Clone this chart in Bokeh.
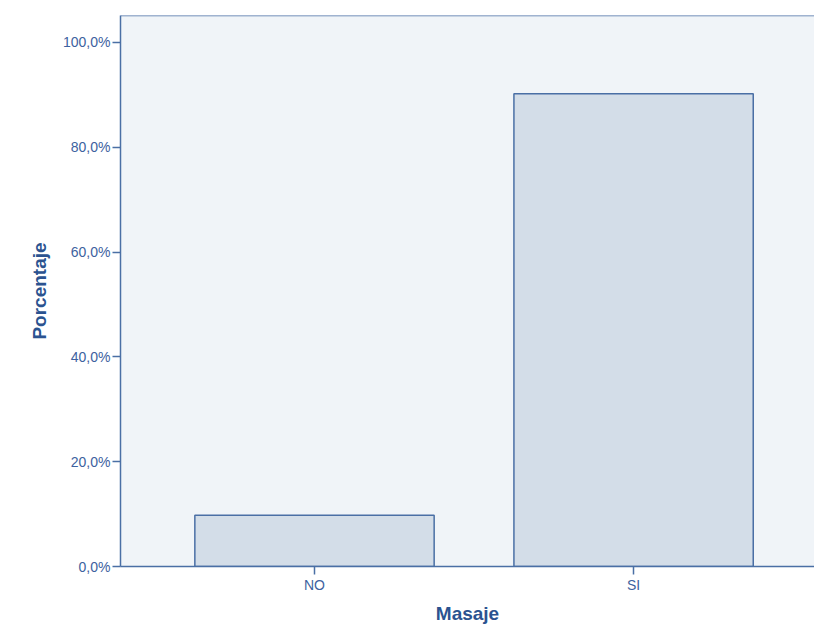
from bokeh.plotting import figure
from bokeh.models import Range1d, FixedTicker, Span
from bokeh.embed import file_html
from bokeh.resources import INLINE

categories = ["NO", "SI"]
percentages = [9.8, 90.2]
y_ticks = [0, 20, 40, 60, 80, 100]
y_tick_labels = ["0,0%", "20,0%", "40,0%", "60,0%", "80,0%", "100,0%"]
y_max = 105.15

xs = list(range(len(categories)))

p = figure(width=814, height=632, output_backend="svg", toolbar_location=None,
           x_range=Range1d(-0.608, 1.567), y_range=Range1d(0, y_max),
           min_border_left=120, min_border_right=0, min_border_top=15, min_border_bottom=66)

p.background_fill_color = "#F0F4F8"
p.border_fill_color = "white"
p.outline_line_color = None
p.grid.visible = False

axis_col = "#4A6FA5"
lbl_col = "#3D62A0"
title_col = "#2B5390"

p.vbar(x=xs, top=percentages, width=0.75, bottom=0,
       fill_color="#D3DDE8", line_color=axis_col, line_width=1.5)

p.add_layout(Span(location=y_max, dimension="width", line_color=axis_col, line_width=1.5))

p.xaxis.ticker = FixedTicker(ticks=xs)
p.xaxis.major_label_overrides = {i: c for i, c in zip(xs, categories)}
p.yaxis.ticker = FixedTicker(ticks=y_ticks)
p.yaxis.major_label_overrides = {t: l for t, l in zip(y_ticks, y_tick_labels)}

for ax in (p.xaxis, p.yaxis):
    ax.axis_line_color = axis_col
    ax.axis_line_width = 1.5
    ax.major_tick_line_color = axis_col
    ax.major_tick_line_width = 1.5
    ax.major_tick_out = 8
    ax.major_tick_in = 0
    ax.minor_tick_line_color = None
    ax.major_label_text_color = lbl_col
    ax.major_label_text_font = "Liberation Sans"
    ax.major_label_text_font_size = "14px"
    ax.axis_label_text_color = title_col
    ax.axis_label_text_font = "Liberation Sans"
    ax.axis_label_text_font_style = "bold"
    ax.axis_label_text_font_size = "19px"

p.xaxis.axis_label = "Masaje"
p.yaxis.axis_label = "Porcentaje"
p.xaxis.major_label_standoff = 2
p.yaxis.major_label_standoff = 2
p.xaxis.axis_label_standoff = 7
p.yaxis.axis_label_standoff = 10

open("out.html", "w").write(file_html(p, INLINE))
